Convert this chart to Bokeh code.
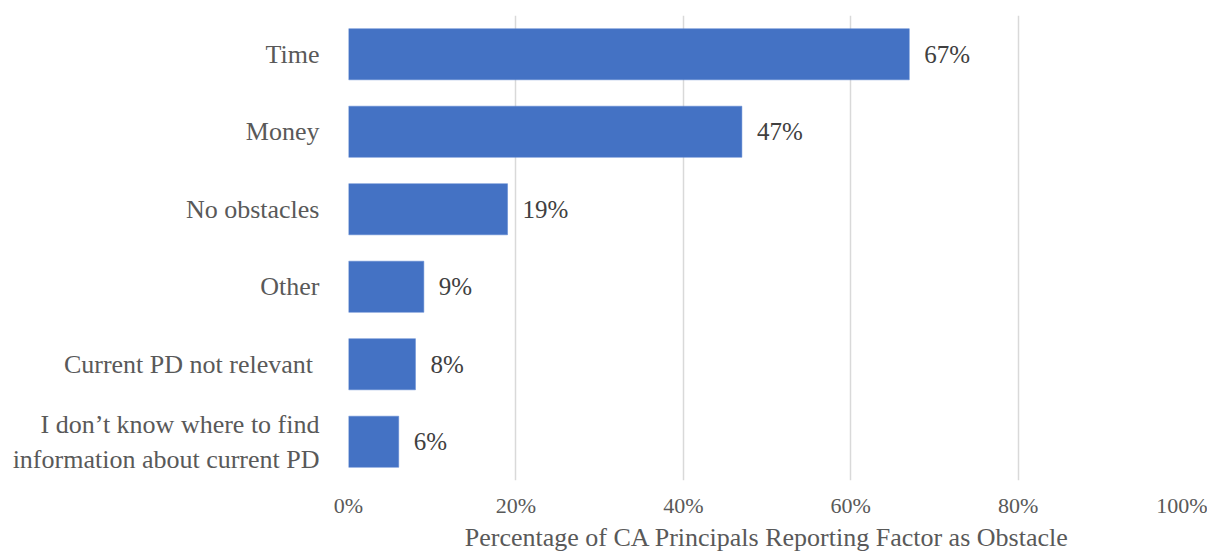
from bokeh.plotting import figure
from bokeh.models import FactorRange, Range1d, NumeralTickFormatter, FixedTicker, ColumnDataSource
from bokeh.core.properties import value
from bokeh.embed import file_html
from bokeh.resources import INLINE

categories = ["Time", "Money", "No obstacles", "Other", "Current PD not relevant ",
              "I don\u2019t know where to find\ninformation about current PD"]
values = [0.67, 0.47, 0.19, 0.09, 0.08, 0.06]
value_labels = ["67%", "47%", "19%", "9%", "8%", "6%"]
x_ticks = [0, 0.2, 0.4, 0.6, 0.8, 1.0]
x_title = "Percentage of CA Principals Reporting Factor as Obstacle"

FONT = "Liberation Serif"

src = ColumnDataSource(dict(cat=categories, val=values, lab=value_labels))

p = figure(y_range=FactorRange(factors=list(reversed(categories)), range_padding=0),
           x_range=Range1d(0, 1),
           width=1207, height=554, output_backend="svg", toolbar_location=None,
           min_border_left=348, min_border_right=22, min_border_top=15, min_border_bottom=60)

p.hbar(y="cat", right="val", left=0, height=0.66, source=src,
       fill_color="#4472C4", line_color="#5B85D0", line_width=0.5)

p.text(x="val", y="cat", text="lab", source=src, x_offset=15,
       text_baseline="middle", text_align="left",
       text_font=value(FONT), text_font_size="25px", text_color="#404040")

p.outline_line_color = None
p.ygrid.grid_line_color = None
p.xgrid.grid_line_color = "#D9D9D9"
p.xgrid.grid_line_width = 1.5
p.xgrid.ticker = FixedTicker(ticks=x_ticks)

xa = p.xaxis[0]
xa.ticker = FixedTicker(ticks=x_ticks)
xa.formatter = NumeralTickFormatter(format="0%")
xa.axis_line_color = None
xa.major_tick_line_color = None
xa.minor_tick_line_color = None
xa.major_label_text_font = FONT
xa.major_label_text_font_size = "22px"
xa.major_label_text_color = "#595959"
xa.major_label_standoff = 6
xa.axis_label = x_title
xa.axis_label_text_font = FONT
xa.axis_label_text_font_size = "26px"
xa.axis_label_text_font_style = "normal"
xa.axis_label_text_color = "#595959"
xa.axis_label_standoff = 2

ya = p.yaxis[0]
ya.axis_line_color = None
ya.major_tick_line_color = None
ya.minor_tick_line_color = None
ya.major_label_text_font = FONT
ya.major_label_text_font_size = "26px"
ya.major_label_text_color = "#595959"
ya.major_label_standoff = 23

open("out.html", "w").write(file_html(p, INLINE))
